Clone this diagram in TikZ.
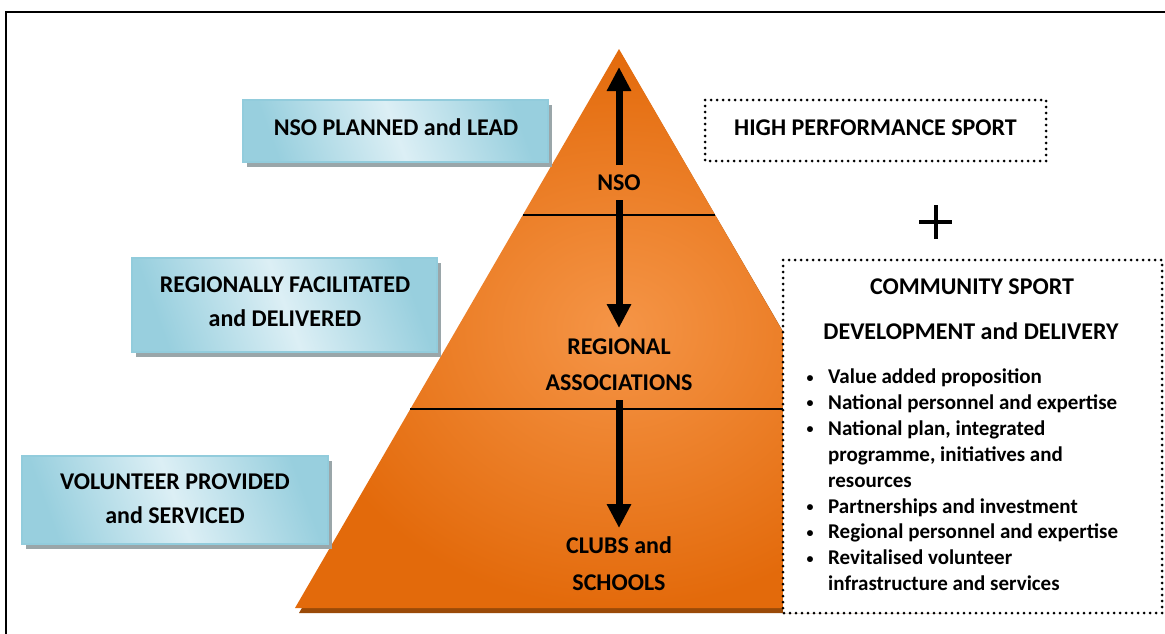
\documentclass[tikz,border=0pt]{standalone}
\usepackage{fontspec}
\setmainfont{Carlito}
\usetikzlibrary{arrows.meta}
\definecolor{orD}{HTML}{E36A0B}
\definecolor{orL}{HTML}{F59547}
\definecolor{orS}{HTML}{9A4A08}
\definecolor{blL}{HTML}{DCEFF5}
\definecolor{blD}{HTML}{98CFDE}
\definecolor{blB}{HTML}{92CCDC}
\definecolor{shd}{HTML}{9AA6A9}
\tikzset{
  lbl/.style={font=\fontsize{24}{28}\selectfont\bfseries, anchor=base, inner sep=0pt},
  itm/.style={font=\fontsize{21}{25}\selectfont\bfseries, anchor=base west, inner sep=0pt},
  bul/.style={font=\fontsize{14}{16}\selectfont\bfseries, anchor=base, inner sep=0pt},
  bigarrow/.style={line width=7pt, -{Triangle[width=23pt,length=24pt]}},
  dotbox/.style={line width=3pt, dash pattern=on 0pt off 6pt, line cap=round, fill=white},
  bluebox/.style={top color=blD, bottom color=blD, middle color=blL, shading angle=-70, draw=blB, line width=2pt},
  divider/.style={line width=1.5pt, black}
}
\begin{document}
\begin{tikzpicture}[x=1pt,y=-1pt]
\useasboundingbox (0,0) rectangle (1165,633);
\fill[white] (0,0) rectangle (1165,633);
% frame
\draw[line width=2pt] (6,640) -- (6,12) -- (1170,12);

% pyramid
\coordinate (apex) at (619,49);
\coordinate (bl) at (295,608);
\coordinate (br) at (943,608);
\fill[orS] (622,55) -- (947,613) -- (299,613) -- cycle;
\shade[inner color=orL, outer color=orD] (apex) -- (br) -- (bl) -- cycle;
\coordinate (d1l) at (522.8,215); \coordinate (d1r) at (715.2,215);
\coordinate (d2l) at (410.3,409); \coordinate (d2r) at (827.7,409);
\draw[divider] (d1l) -- (d1r);
\draw[divider] (d2l) -- (d2r);

% pyramid labels
\node[lbl] (nso) at (619,190.7) {NSO};
\node[lbl] (reg1) at (619,354.7) {REGIONAL};
\node[lbl] (reg2) at (619,390.7) {ASSOCIATIONS};
\node[lbl] (clb1) at (619,553.7) {CLUBS and};
\node[lbl] (clb2) at (619,590.5) {SCHOOLS};

% arrows
\coordinate (a0s) at (619,165); \coordinate (a0e) at (619,67);
\coordinate (a1s) at (619,200); \coordinate (a1e) at (619,328);
\coordinate (a2s) at (619,400); \coordinate (a2e) at (619,528);
\draw[bigarrow] (a0s) -- (a0e);
\draw[bigarrow] (a1s) -- (a1e);
\draw[bigarrow] (a2s) -- (a2e);

% blue boxes
\fill[shd] (247,105) rectangle (552,167);
\shade[bluebox] (243,100) rectangle (548,162);
\node[lbl] (b1) at (396,135.7) {NSO PLANNED and LEAD};

\fill[shd] (136,263) rectangle (441,357);
\shade[bluebox] (132,258) rectangle (437,352);
\node[lbl] (b2a) at (285,292.7) {REGIONALLY FACILITATED};
\node[lbl] (b2b) at (285,326.7) {and DELIVERED};

\fill[shd] (26,461) rectangle (332,549);
\shade[bluebox] (22,456) rectangle (328,544);
\node[lbl] (b3a) at (175,489.7) {VOLUNTEER PROVIDED};
\node[lbl] (b3b) at (175,523.7) {and SERVICED};

% high performance
\draw[dotbox] (705,100) rectangle (1046,161);
\node[lbl] (hp) at (875.5,135.7) {HIGH PERFORMANCE SPORT};

% plus
\coordinate (pl) at (919,222); \coordinate (pr) at (952,222);
\coordinate (pt) at (936,205); \coordinate (pb) at (936,239);
\draw[line width=3.5pt] (pl) -- (pr);
\draw[line width=3.5pt] (pt) -- (pb);

% community sport
\draw[dotbox] (783,260) rectangle (1162,613);
\node[lbl] (cs1) at (972,294.7) {COMMUNITY SPORT};
\node[lbl] (cs2) at (971,339.7) {DEVELOPMENT and DELIVERY};

\foreach \i/\t/\b in {0/Value added proposition/1, 1/National personnel and expertise/1, 2/{National plan, integrated}/1, 3/{programme, initiatives and}/0, 4/resources/0, 5/Partnerships and investment/1, 6/Regional personnel and expertise/1, 7/Revitalised volunteer/1, 8/infrastructure and services/0}{
  \node[itm] (it\i) at (828,{383.5+25.9*\i}) {\t};
  \ifnum\b=1 \node[bul] (bu\i) at (810,{382+25.9*\i}) {\textbullet}; \fi
}
\end{tikzpicture}
\end{document}
